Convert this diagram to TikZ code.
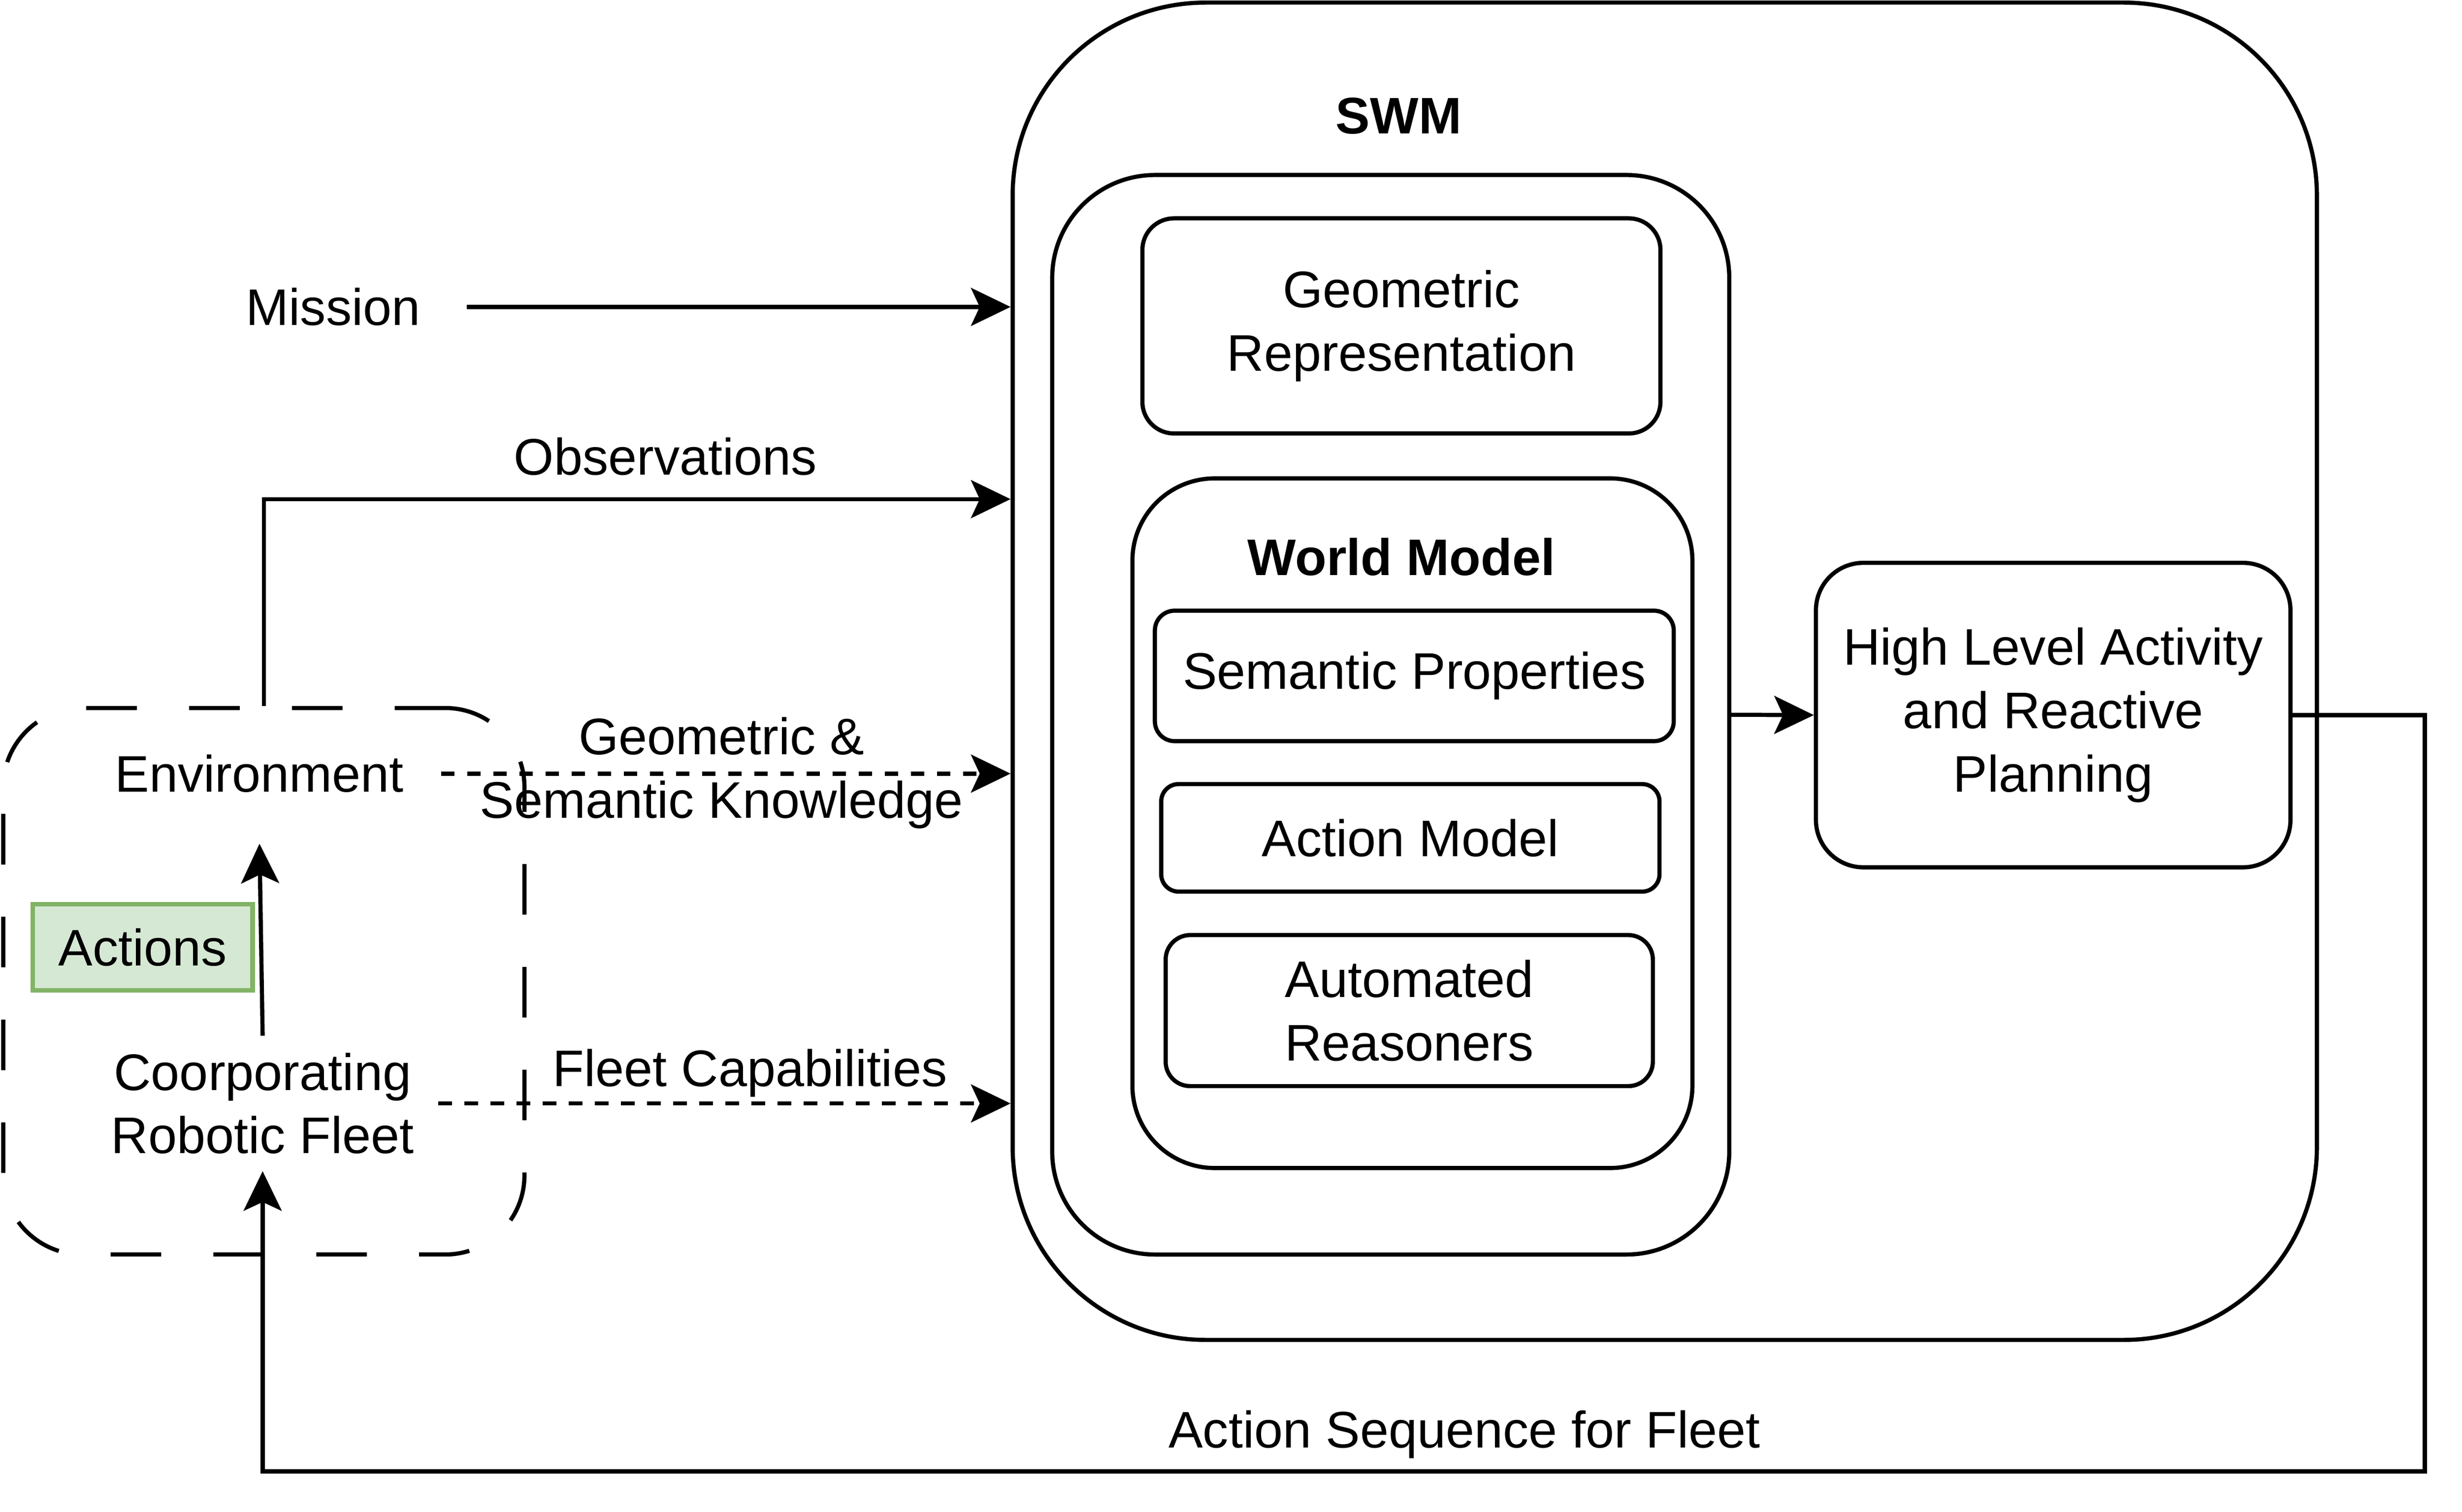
\documentclass[tikz,border=0pt]{standalone}
\usepackage{fontspec}
\setmainfont{Liberation Sans}
\usetikzlibrary{arrows.meta}

\begin{document}
\begin{tikzpicture}[x=0.02cm, y=-0.02cm, line width=1.5pt,
  txt/.style={font=\fontsize{18.5}{22.8}\selectfont, align=center, inner sep=0pt},
  box/.style={txt, draw},
  arr/.style={-{Stealth[length=0.5cm, width=0.48cm, inset=0.11cm]}},
  dots/.style={arr, dash pattern=on 0.17cm off 0.16cm}]
\path[use as bounding box, fill=white] (0,0) rectangle (1556.1,955.5);
\node[box, minimum width=16.49cm, minimum height=16.91cm, rounded corners=2.44cm] (swm) at (1052.2,424.3) {};
\node[txt, anchor=base] (swmlbl) at (884,84.6) {\textbf{SWM}};
\node[box, minimum width=8.56cm, minimum height=13.65cm, rounded corners=1.3cm] (inner) at (879,451.8) {};
\node[box, minimum width=6.55cm, minimum height=2.72cm, rounded corners=0.4cm] (geo) at (885.75,206) {Geometric\\Representation};
\node[box, minimum width=7.08cm, minimum height=8.72cm, rounded corners=1.04cm] (wm) at (892.7,520.35) {};
\node[txt, anchor=base] (wmlbl) at (885.7,363.5) {\textbf{World Model}};
\node[box, minimum width=6.56cm, minimum height=1.65cm, rounded corners=0.25cm] (sem) at (893.9,427.25) {Semantic Properties};
\node[box, minimum width=6.3cm, minimum height=1.36cm, rounded corners=0.22cm] (act) at (891.4,529.6) {Action Model};
\node[box, minimum width=6.16cm, minimum height=1.91cm, rounded corners=0.31cm] (aut) at (890.7,638.8) {Automated\\Reasoners};
\node[box, minimum width=6cm, minimum height=3.85cm, rounded corners=0.6cm] (hla) at (1297.7,452) {High Level Activity\\and Reactive\\Planning};
\node[box, minimum width=6.59cm, minimum height=6.91cm, rounded corners=1cm, dash pattern=on 0.64cm off 0.66cm] (dash) at (166.75,620.25) {};
\node[box, minimum width=2.78cm, minimum height=1.09cm, fill={rgb,255:red,213;green,232;blue,212}, draw={rgb,255:red,130;green,179;blue,102}, line width=1.7pt] (acts) at (90.2,598.75) {Actions};
\node[txt, minimum width=4.54cm, minimum height=1.72cm] (env) at (164,489) {Environment};
\node[txt, minimum width=4.39cm, minimum height=1.66cm] (fleet) at (166,697.5) {Coorporating\\Robotic Fleet};
\node[txt, minimum width=3.32cm] (mission) at (210.6,194) {Mission};
\node[txt, anchor=base] (obslbl) at (420.6,300.3) {Observations};
\node[txt] (gsk) at (456,488.6) {Geometric \&\\Semantic Knowledge};
\node[txt, anchor=base] (fcap) at (474,686.6) {Fleet Capabilities};
\node[txt, anchor=base] (seq) at (925.6,915) {Action Sequence for Fleet};
\coordinate (ret) at (1532.6,930);
\draw[arr] (mission.east) -- (mission.east -| swm.west);
\draw[arr] (dash.north) |- (swm.west |- 0,315.5);
\draw[dots] (env.east) -- (env.east -| swm.west);
\draw[dots] (fleet.east) -- (fleet.east -| swm.west);
\draw[arr] (fleet.north) -- (env.south);
\draw[arr] (inner.east) -- (hla.west);
\draw[arr] (hla.east) -| (ret) -| (fleet.south);
\end{tikzpicture}
\end{document}
